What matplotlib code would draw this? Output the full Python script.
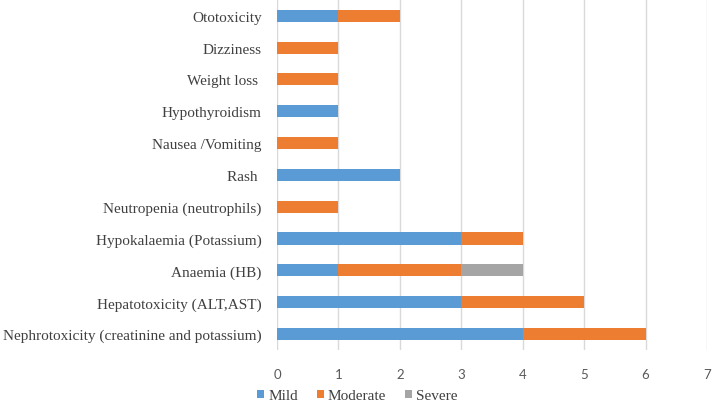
import matplotlib
matplotlib.use("Agg")
import matplotlib.pyplot as plt
import numpy as np

categories = ["Nephrotoxicity (creatinine and potassium)", "Hepatotoxicity (ALT,AST)",
              "Anaemia (HB)", "Hypokalaemia (Potassium)", "Neutropenia (neutrophils)",
              "Rash ", "Nausea /Vomiting", "Hypothyroidism", "Weight loss ", "Dizziness",
              "Ototoxicity"]
mild = [4, 3, 1, 3, 0, 2, 0, 1, 0, 0, 1]
moderate = [2, 2, 2, 1, 1, 0, 1, 0, 1, 1, 1]
severe = [0, 0, 1, 0, 0, 0, 0, 0, 0, 0, 0]
series_names = ["Mild", "Moderate", "Severe"]
xticks = [0, 1, 2, 3, 4, 5, 6, 7]

colors = ["#5b9bd5", "#ed7d31", "#a5a5a5"]

fig = plt.figure(figsize=(7.12, 4.02), dpi=100)
ax = fig.add_axes([0.389, 0.127, 0.604, 0.871])
y = np.arange(len(categories))
left = np.zeros(len(categories))
handles = []
for vals, c, name in zip([mild, moderate, severe], colors, series_names):
    h = ax.barh(y, vals, left=left, height=0.38, color=c, label=name, zorder=3)
    handles.append(h)
    left = left + np.array(vals)

ax.set_xlim(0, 7)
ax.set_ylim(-0.5, len(categories) - 0.5)
ax.set_xticks(xticks)
ax.set_yticks(y)
ax.set_yticklabels(categories, fontfamily="Liberation Serif", fontsize=10.95, color="#404040")
ax.set_xticklabels([str(t) for t in xticks], fontfamily="Lato", fontsize=9.5, color="#595959")
ax.tick_params(axis="both", length=0)
ax.tick_params(axis="y", pad=11)
ax.tick_params(axis="x", pad=13)
ax.grid(axis="x", color="#d9d9d9", linewidth=1, zorder=0)
for s in ax.spines.values():
    s.set_visible(False)

leg = fig.legend(handles=handles, labels=series_names, loc="center", bbox_to_anchor=(0.502, 0.013),
                 ncol=3, frameon=False, fontsize=11,
                 handlelength=0.46, handleheight=0.46, handletextpad=0.26, columnspacing=1.25,
                 borderpad=0, borderaxespad=0)
for t in leg.get_texts():
    t.set_fontfamily("Liberation Serif")
    t.set_fontsize(11)
    t.set_color("#404040")
fig.savefig("out.png", dpi=100)
